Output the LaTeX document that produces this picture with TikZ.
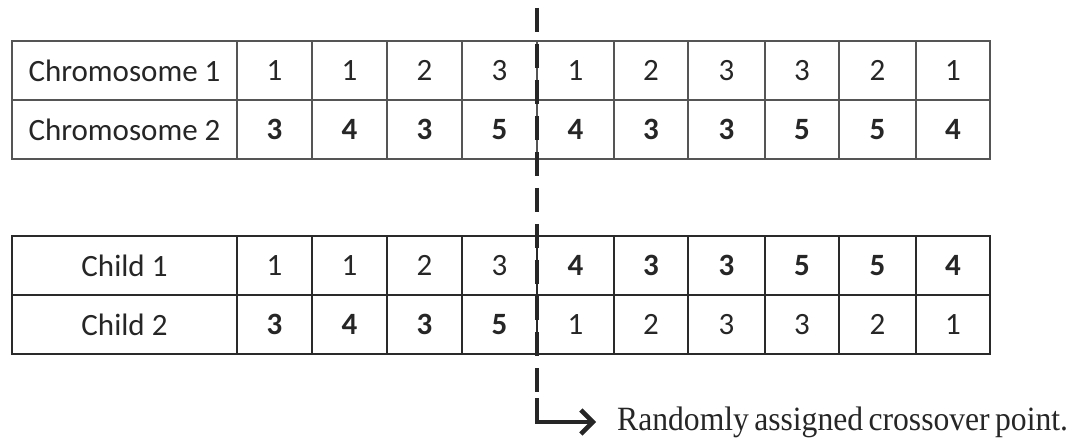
\documentclass[tikz,border=0pt]{standalone}
\usepackage{fontspec}
\setmainfont{Carlito}
\newfontfamily\notefont{Liberation Serif}
\usetikzlibrary{arrows.meta}
\definecolor{gridA}{HTML}{555555}
\definecolor{gridB}{HTML}{2A2A2A}
\definecolor{ink}{HTML}{262626}
\begin{document}
\begin{tikzpicture}[x=1pt,y=-1pt,
  cellA/.style={draw=gridA, line width=2pt, inner sep=0pt, text=ink,
    font=\fontsize{31}{31}\selectfont},
  cellB/.style={cellA, draw=gridB},
  cutline/.style={draw=ink, line width=4pt, dash pattern=on 24pt off 12pt},
  pointer/.style={draw=ink, line width=4.5pt, line join=miter,
    -{Straight Barb[length=12pt,width=24pt]}},
  notetext/.style={anchor=base west, inner sep=0pt, text=ink,
    font=\notefont\fontsize{34}{34}\selectfont}]
\useasboundingbox (0,0) rectangle (1081,438);
\def\xs{{12,237,312,387,462,537,614,688,765,839,916,990}}
% rows: name / style / top / bottom / label / values
\foreach \rn/\st/\ya/\yb/\lab/\vals in {
  r1/cellA/41/100/{Chromosome 1}/{1/0,1/0,2/0,3/0,1/0,2/0,3/0,3/0,2/0,1/0},
  r2/cellA/100/159/{Chromosome 2}/{3/1,4/1,3/1,5/1,4/1,3/1,3/1,5/1,5/1,4/1},
  r3/cellB/236/295/{Child 1}/{1/0,1/0,2/0,3/0,4/1,3/1,3/1,5/1,5/1,4/1},
  r4/cellB/295/354/{Child 2}/{3/1,4/1,3/1,5/1,1/0,2/0,3/0,3/0,2/0,1/0}}{
  \pgfmathsetmacro\yc{(\ya+\yb)/2}
  \pgfmathsetmacro\hh{\yb-\ya}
  \node[\st, minimum width=225pt, minimum height=\hh pt] (\rn c0) at (124.5,\yc) {\lab};
  \foreach \v/\b [count=\i] in \vals {
    \pgfmathsetmacro\xa{\xs[\i]}
    \pgfmathsetmacro\xb{\xs[\i+1]}
    \pgfmathsetmacro\xc{(\xa+\xb)/2}
    \pgfmathsetmacro\ww{\xb-\xa}
    \node[\st, minimum width=\ww pt, minimum height=\hh pt] (\rn c\i) at (\xc,\yc)
      {\ifnum\b=1 \bfseries\fi\v};
  }
}
% crossover line
\coordinate (cuttop) at (537,8);
\coordinate (cutend) at (537,394);
\coordinate (bendtop) at (537,398);
\coordinate (corner) at (537,422);
\coordinate (tip) at (596,422);
\draw[cutline] (cuttop) -- (cutend);
\node[notetext] (note) at (617,430) {\scalebox{0.93}[1]{\spaceskip=0.17em Randomly assigned crossover point.}};
\draw[pointer] (bendtop) -- (corner) -- (tip);
\end{tikzpicture}
\end{document}
